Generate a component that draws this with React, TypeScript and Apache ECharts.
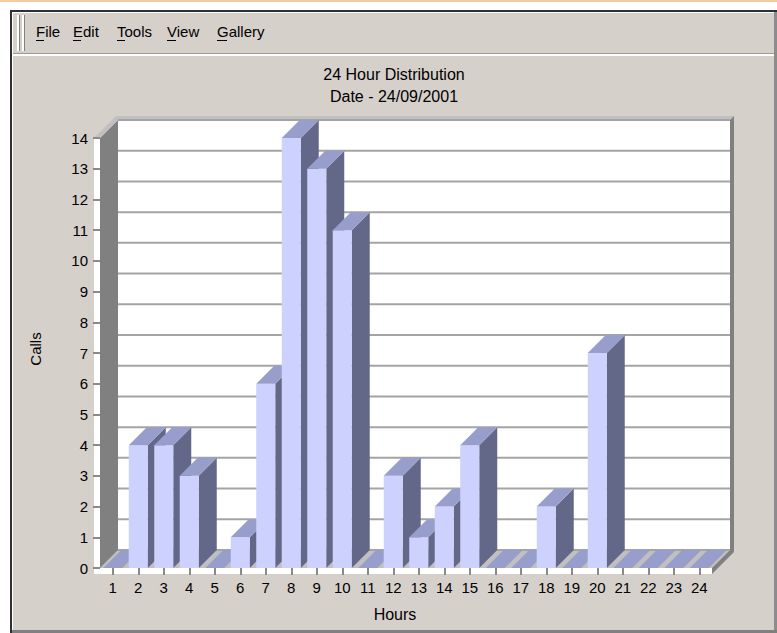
import React, { useEffect, useRef } from "react";
import * as echarts from "echarts";

const hours = ["1","2","3","4","5","6","7","8","9","10","11","12","13","14","15","16","17","18","19","20","21","22","23","24"];
const calls = [0, 4, 4, 3, 0, 1, 6, 14, 13, 11, 0, 3, 1, 2, 4, 0, 0, 2, 0, 7, 0, 0, 0, 0];
const yTicks = [0, 1, 2, 3, 4, 5, 6, 7, 8, 9, 10, 11, 12, 13, 14];
const Y_MAX = 14;
const menuItems = ["File", "Edit", "Tools", "View", "Gallery"];
const titleLines = ["24 Hour Distribution", "Date - 24/09/2001"];
const yAxisName = "Calls";
const xAxisName = "Hours";

const FONT = "'Liberation Sans', Arial, sans-serif";
const D = 18;
const T = 6;
const B = 4;
const PANEL = "#d6d0cb";

const menuX = [36, 73, 117, 167, 217];
const menuUnder = [8, 8, 8, 9, 10];

export default function App() {
  const ref = useRef<HTMLDivElement>(null);
  useEffect(() => {
    if (!ref.current) return;
    const chart = echarts.init(ref.current, undefined, { renderer: "svg" });

    const frameItem = (_p: any, api: any) => {
      const bw = api.size([1, 0])[0];
      const c0 = api.coord([0, 0]);
      const yT = api.coord([0, Y_MAX])[1];
      const x0 = c0[0] - bw / 2;
      const x1 = x0 + bw * hours.length;
      const yB = c0[1];
      return {
        type: "group",
        children: [
          { type: "polygon", shape: { points: [[x0, yB], [x1, yB], [x1 + D, yB - D], [x0 + D, yB - D]] }, style: { fill: "#c0c0c0" } },
          { type: "rect", shape: { x: x0 + D, y: yT - D, width: x1 - x0, height: yB - yT }, style: { fill: "#ffffff" } },
          { type: "polygon", shape: { points: [[x0, yT], [x0 + D, yT - D], [x0 + D, yB - D], [x0, yB]] }, style: { fill: "#808080" } },
          { type: "polygon", shape: { points: [[x0 - T, yT], [x0, yT], [x0 + D, yT - D], [x1 + D, yT - D], [x1 + D + B, yT - D - B], [x0 - T + D + B, yT - D - B]] }, style: { fill: "#c0c0c0" } },
          { type: "polygon", shape: { points: [[x1 + D, yT - D], [x1 + D + B, yT - D - B], [x1 + D + B, yB + T - D - B], [x1, yB + T], [x1, yB], [x1 + D, yB - D]] }, style: { fill: "#808080" } },
          { type: "rect", shape: { x: x0 - T, y: yT, width: T, height: yB - yT + T }, style: { fill: "#ffffff" } },
          { type: "rect", shape: { x: x0 - T, y: yB, width: x1 - x0 + T, height: T }, style: { fill: "#ffffff" } },
        ],
      };
    };

    const gridItem = (_p: any, api: any) => {
      const bw = api.size([1, 0])[0];
      const c0 = api.coord([0, 0]);
      const x0 = c0[0] - bw / 2;
      const x1 = x0 + bw * hours.length;
      const y = api.coord([0, api.value(1)])[1];
      return {
        type: "line",
        shape: { x1: x0 + D, y1: y - D, x2: x1 + D, y2: y - D },
        style: { stroke: "#a4a4a4", lineWidth: 2 },
      };
    };

    const barItem = (_p: any, api: any) => {
      const i = api.value(0);
      const v = api.value(1);
      const p = api.coord([i, v]);
      const p0 = api.coord([i, 0]);
      const bw = api.size([1, 0])[0];
      const w = bw * 0.745;
      const l = p[0] - w / 2;
      const r = p[0] + w / 2;
      const yv = p[1];
      const y0 = p0[1];
      const children: any[] = [];
      if (v > 0) {
        children.push({ type: "polygon", shape: { points: [[r, yv], [r + D, yv - D], [r + D, y0 - D], [r, y0]] }, style: { fill: "#646888" } });
        children.push({ type: "rect", shape: { x: l, y: yv, width: w, height: y0 - yv }, style: { fill: "#cdd1fe" } });
      }
      children.push({ type: "polygon", shape: { points: [[l, yv], [r, yv], [r + D, yv - D], [l + D, yv - D]] }, style: { fill: "#989ecb" } });
      return { type: "group", children };
    };

    const graphics: any[] = [
      { type: "rect", z: -10, shape: { x: 0, y: 0, width: 777, height: 2 }, style: { fill: "#f5caa5" } },
      { type: "rect", z: -10, shape: { x: 10, y: 10, width: 767, height: 623 }, style: { fill: PANEL } },
      { type: "rect", z: -9, shape: { x: 10, y: 10, width: 767, height: 2 }, style: { fill: "#303030" } },
      { type: "rect", z: -9, shape: { x: 10, y: 10, width: 2, height: 623 }, style: { fill: "#303030" } },
      { type: "rect", z: -9, shape: { x: 12, y: 12, width: 765, height: 1 }, style: { fill: "#ffffff" } },
      { type: "rect", z: -9, shape: { x: 12, y: 12, width: 1, height: 621 }, style: { fill: "#ffffff" } },
      { type: "rect", z: -9, shape: { x: 774, y: 12, width: 3, height: 621 }, style: { fill: "#8c8c8c" } },
      { type: "rect", z: -9, shape: { x: 12, y: 630, width: 765, height: 3 }, style: { fill: "#808080" } },
      { type: "rect", z: -9, shape: { x: 13, y: 53, width: 761, height: 1 }, style: { fill: "#9a9a9a" } },
      { type: "rect", z: -9, shape: { x: 13, y: 54, width: 761, height: 2 }, style: { fill: "#ffffff" } },
      { type: "rect", z: -9, shape: { x: 17, y: 15, width: 2, height: 36 }, style: { fill: "#ffffff" } },
      { type: "rect", z: -9, shape: { x: 19, y: 15, width: 1, height: 36 }, style: { fill: "#808080" } },
      { type: "rect", z: -9, shape: { x: 22, y: 15, width: 2, height: 36 }, style: { fill: "#ffffff" } },
      { type: "rect", z: -9, shape: { x: 24, y: 15, width: 1, height: 36 }, style: { fill: "#808080" } },
    ];
    menuItems.forEach((m, i) => {
      graphics.push({ type: "text", x: menuX[i], y: 39, style: { text: m, fill: "#000", font: `15px ${FONT}`, textAlign: "left", textVerticalAlign: "bottom" } });
      graphics.push({ type: "rect", shape: { x: menuX[i], y: 40, width: menuUnder[i], height: 1 }, style: { fill: "#000" } });
    });
    titleLines.forEach((t, i) => {
      graphics.push({ type: "text", x: 394, y: 74 + i * 22, style: { text: t, fill: "#000", font: `16px ${FONT}`, textAlign: "center", textVerticalAlign: "middle" } });
    });
    graphics.push({ type: "text", x: 35, y: 349, rotation: Math.PI / 2, style: { text: yAxisName, fill: "#000", font: `15px ${FONT}`, textAlign: "center", textVerticalAlign: "middle" } });
    graphics.push({ type: "text", x: 395, y: 614, style: { text: xAxisName, fill: "#000", font: `16px ${FONT}`, textAlign: "center", textVerticalAlign: "middle" } });

    chart.setOption({
      animation: false,
      backgroundColor: "#ffffff",
      grid: { left: 100, right: 65, top: 138, bottom: 65, containLabel: false },
      xAxis: {
        type: "category",
        data: hours,
        boundaryGap: true,
        z: 10,
        axisLine: { show: false },
        axisTick: { show: true, alignWithLabel: true, length: 7, lineStyle: { color: "#8a8a8a", width: 2 } },
        axisLabel: { color: "#000", fontSize: 15, fontFamily: FONT, margin: 12, interval: 0 },
        splitLine: { show: false },
      },
      yAxis: {
        type: "value",
        min: 0,
        max: Y_MAX,
        interval: 1,
        z: 10,
        axisLine: { show: false },
        axisTick: { show: true, length: 7, lineStyle: { color: "#8a8a8a", width: 2 } },
        axisLabel: { color: "#000", fontSize: 15, fontFamily: FONT, margin: 12 },
        splitLine: { show: false },
      },
      graphic: graphics,
      series: [
        { type: "custom", z: 1, clip: false, renderItem: frameItem, data: [[0, 0]], encode: { x: 0, y: 1 }, silent: true },
        { type: "custom", z: 2, clip: false, renderItem: gridItem, data: yTicks.map((v) => [0, v]), encode: { x: 0, y: 1 }, silent: true },
        { type: "custom", name: "Calls", z: 3, clip: false, renderItem: barItem, data: calls.map((v, i) => [i, v]), encode: { x: 0, y: 1 } },
      ],
    });
    return () => chart.dispose();
  }, []);
  return <div ref={ref} style={{ position: "absolute", left: 0, top: 0, width: 777, height: 633 }} />;
}
